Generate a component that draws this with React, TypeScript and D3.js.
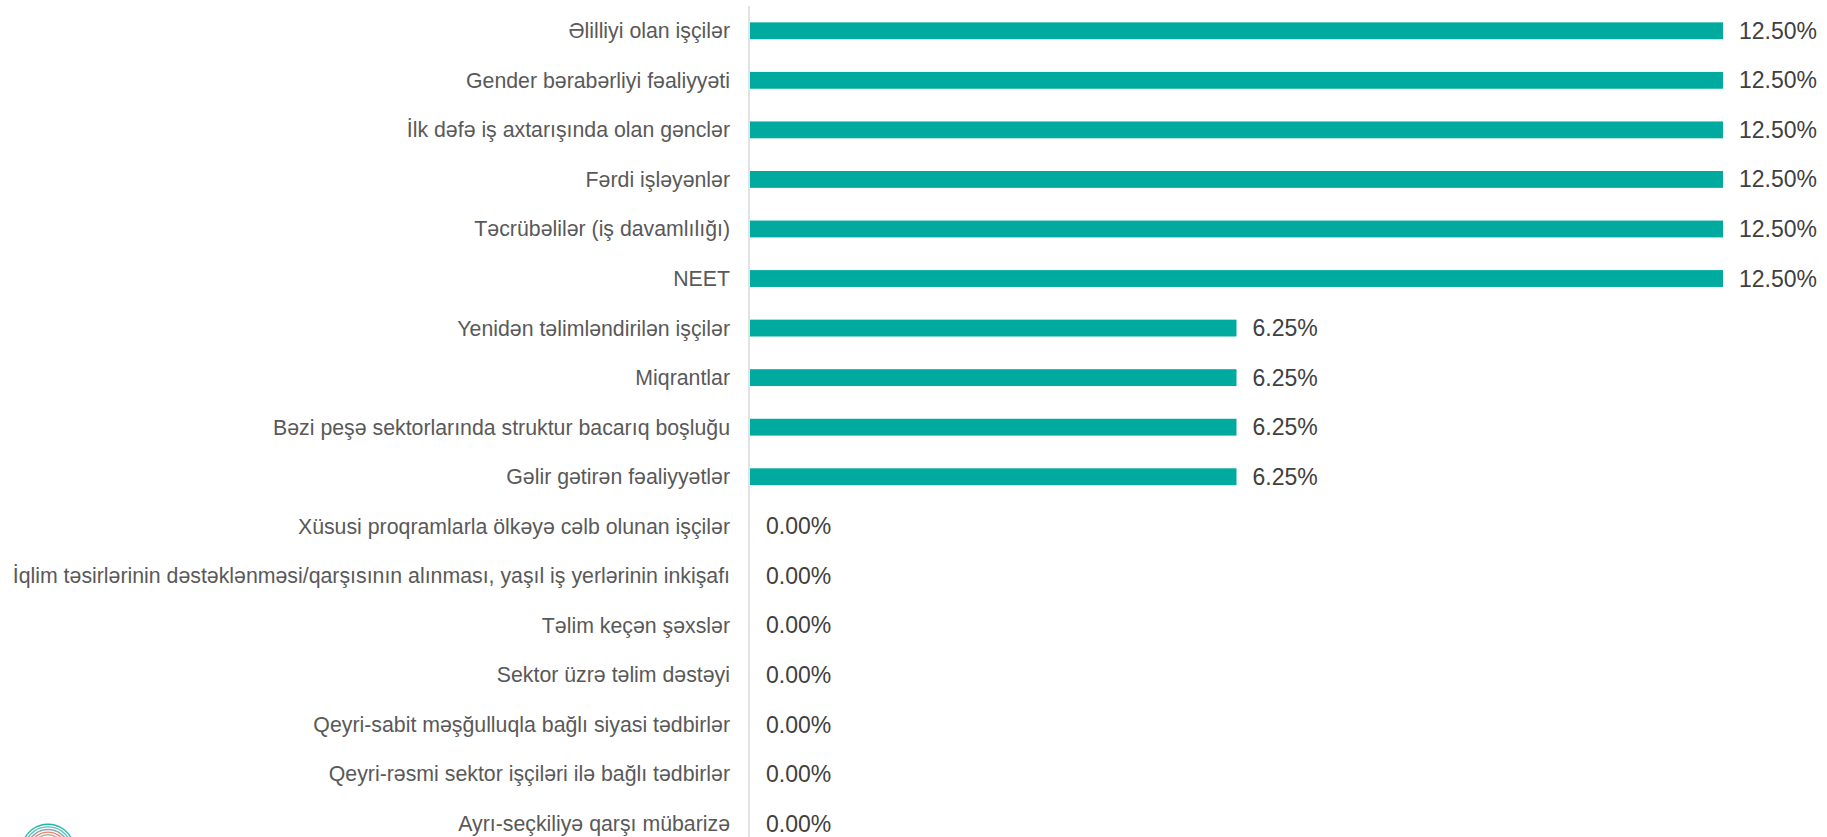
import React from "react";
import * as d3 from "d3";

const categories: string[] = [
  "Əlilliyi olan işçilər",
  "Gender bərabərliyi fəaliyyəti",
  "İlk dəfə iş axtarışında olan gənclər",
  "Fərdi işləyənlər",
  "Təcrübəlilər (iş davamlılığı)",
  "NEET",
  "Yenidən təlimləndirilən işçilər",
  "Miqrantlar",
  "Bəzi peşə sektorlarında struktur bacarıq boşluğu",
  "Gəlir gətirən fəaliyyətlər",
  "Xüsusi proqramlarla ölkəyə cəlb olunan işçilər",
  "İqlim təsirlərinin dəstəklənməsi/qarşısının alınması, yaşıl iş yerlərinin inkişafı",
  "Təlim keçən şəxslər",
  "Sektor üzrə təlim dəstəyi",
  "Qeyri-sabit məşğulluqla bağlı siyasi tədbirlər",
  "Qeyri-rəsmi sektor işçiləri ilə bağlı tədbirlər",
  "Ayrı-seçkiliyə qarşı mübarizə",
];

const values: number[] = [
  0.125, 0.125, 0.125, 0.125, 0.125, 0.125,
  0.0625, 0.0625, 0.0625, 0.0625,
  0, 0, 0, 0, 0, 0, 0,
];

const logoColors: string[] = ["#1fb5a8", "#5cc3ba", "#8aa4b8", "#f08a6a", "#b0b0b0"];

const W = 1827;
const H = 837;
const FONT = "'Liberation Sans', Arial, Helvetica, sans-serif";

export default function App() {
  const y = d3
    .scaleBand<string>()
    .domain(categories)
    .range([6, 6 + categories.length * 49.55])
    .paddingInner(0.66)
    .paddingOuter(0.33);
  const x = d3.scaleLinear().domain([0, 0.125]).range([750, 1723]);
  const fmt = d3.format(".2%");
  const bw = y.bandwidth();

  const arcGen = d3.arc();

  return (
    <svg
      width={W}
      height={H}
      style={{ position: "absolute", left: 0, top: 0, background: "#fff" }}
      fontFamily={FONT}
    >
      {categories.map((c, i) => {
        const cy = (y(c) as number) + bw / 2;
        const v = values[i];
        return (
          <g key={c}>
            <text
              x={730}
              y={cy}
              dy="0.35em"
              textAnchor="end"
              fontSize={21.3}
              fill="#595959"
            >
              {c}
            </text>
            {v > 0 && (
              <rect
                x={x(0)}
                y={y(c) as number}
                width={x(v) - x(0)}
                height={bw}
                fill="#00aa9f"
              />
            )}
            <text
              x={x(v) + 16}
              y={cy}
              dy="0.35em"
              fontSize={23}
              fill="#404040"
            >
              {fmt(v)}
            </text>
          </g>
        );
      })}
      <line x1={749} x2={749} y1={6} y2={H} stroke="#d9d9d9" strokeWidth={1.5} />
      <g transform="translate(48,851)">
        {logoColors.map((col, i) => (
          <path
            key={i}
            d={
              arcGen({
                innerRadius: 26 - i * 2.6,
                outerRadius: 27.4 - i * 2.6,
                startAngle: -Math.PI / 2.6,
                endAngle: Math.PI / 2.6,
              }) as string
            }
            fill={col}
          />
        ))}
      </g>
    </svg>
  );
}
